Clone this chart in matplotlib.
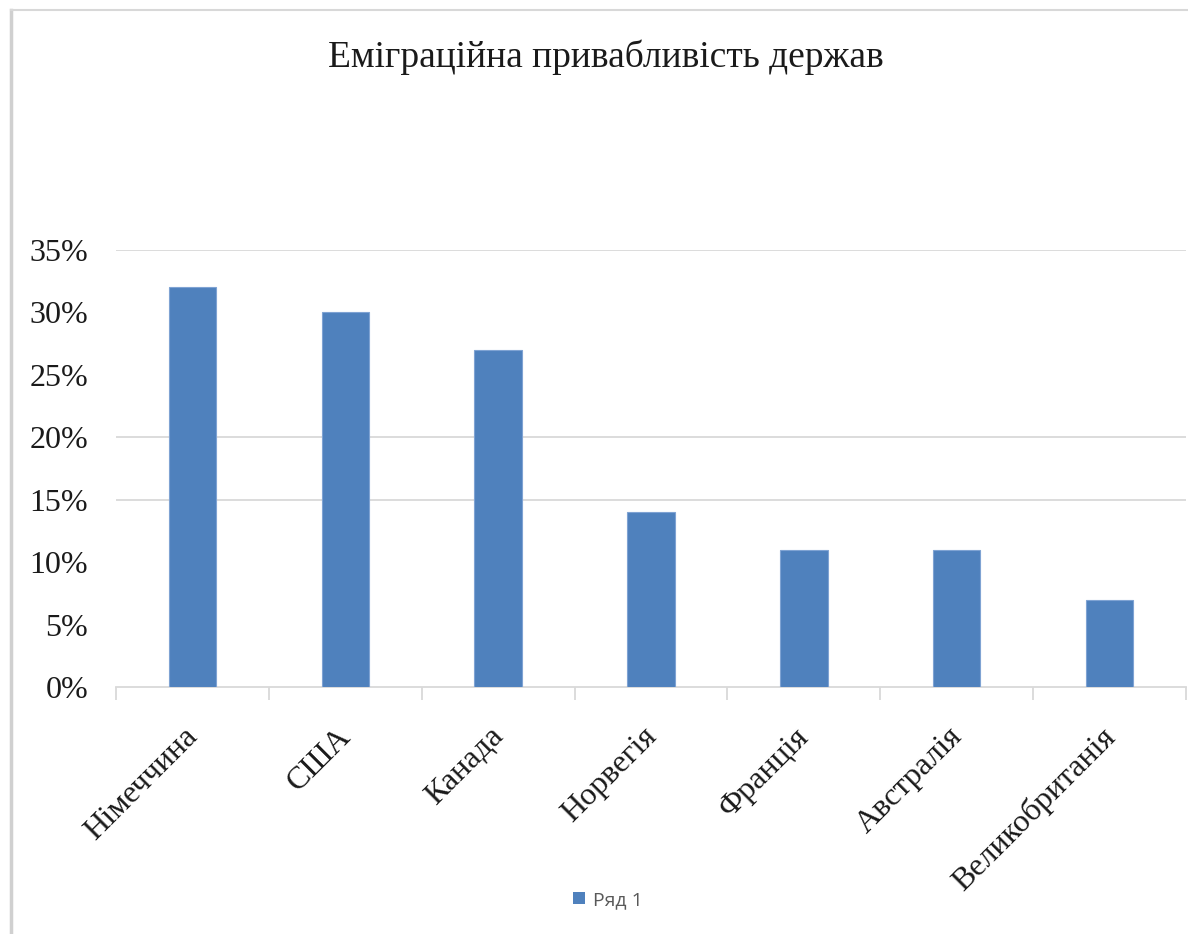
import matplotlib
matplotlib.use("Agg")
import matplotlib.pyplot as plt
from matplotlib.lines import Line2D
from matplotlib.patches import Patch

categories = ["Німеччина", "США", "Канада", "Норвегія", "Франція", "Австралія", "Великобританія"]
values = [0.32, 0.30, 0.27, 0.14, 0.11, 0.11, 0.07]
yticks = [0, 0.05, 0.10, 0.15, 0.20, 0.25, 0.30, 0.35]
ytick_labels = ["0%", "5%", "10%", "15%", "20%", "25%", "30%", "35%"]
grid_levels = [0.15, 0.20, 0.35]
series_name = "Ряд 1"
title = "Еміграційна привабливість держав"

W, H = 1188, 934
fig = plt.figure(figsize=(W / 100, H / 100), dpi=100)
fig.patch.set_facecolor("white")

serif = ["Liberation Serif", "DejaVu Serif"]
ax = fig.add_axes([116 / W, 1 - 687 / H, (1186 - 116) / W, (687 - 250) / H])
x = list(range(len(categories)))
ax.bar(x, values, width=0.31, color="#4F81BD", edgecolor="#7FA3D3", linewidth=0.8, zorder=3)
ax.set_xlim(-0.5, len(categories) - 0.5)
ax.set_ylim(0, 0.35)
ax.set_yticks(yticks)
ax.set_yticklabels(ytick_labels, fontsize=23, family=serif, color="#1a1a1a")
for g in grid_levels:
    ax.axhline(g, color="#D9D9D9", linewidth=1.3, zorder=1)

ax.set_xticks([i - 0.5 for i in range(len(categories) + 1)], minor=False)
ax.set_xticklabels([])
ax.tick_params(axis="x", length=9, width=1.3, color="#D9D9D9", direction="out")
ax.tick_params(axis="y", length=0, pad=20)
for i, c in enumerate(categories):
    ax.text(i - 0.06, -0.028, c, rotation=45, ha="right", va="top", rotation_mode="anchor",
            fontsize=23, family=serif, color="#1a1a1a", transform=ax.transData)

for s in ["top", "right", "left"]:
    ax.spines[s].set_visible(False)
ax.spines["bottom"].set_color("#D9D9D9")
ax.spines["bottom"].set_linewidth(1.3)
ax.set_facecolor("white")

fig.text(606 / W, 1 - 57 / H, title, ha="center", va="center", fontsize=27, family=serif, color="#1a1a1a")

leg = fig.legend(handles=[Patch(facecolor="#4F81BD", label=series_name)], loc="center",
                 bbox_to_anchor=(608 / W, 1 - 900 / H), frameon=False,
                 prop={"family": ["Open Sans", "DejaVu Sans"], "size": 14},
                 handlelength=0.6, handleheight=0.6, handletextpad=0.4)
for t in leg.get_texts():
    t.set_color("#595959")

fig.add_artist(Line2D([11 / W, 11 / W], [0, 1 - 10 / H], color="#D0D0D0", linewidth=2.5))
fig.add_artist(Line2D([11 / W, 1], [1 - 10 / H, 1 - 10 / H], color="#D8D8D8", linewidth=1.5))

fig.savefig("out.png", dpi=100, facecolor="white")
